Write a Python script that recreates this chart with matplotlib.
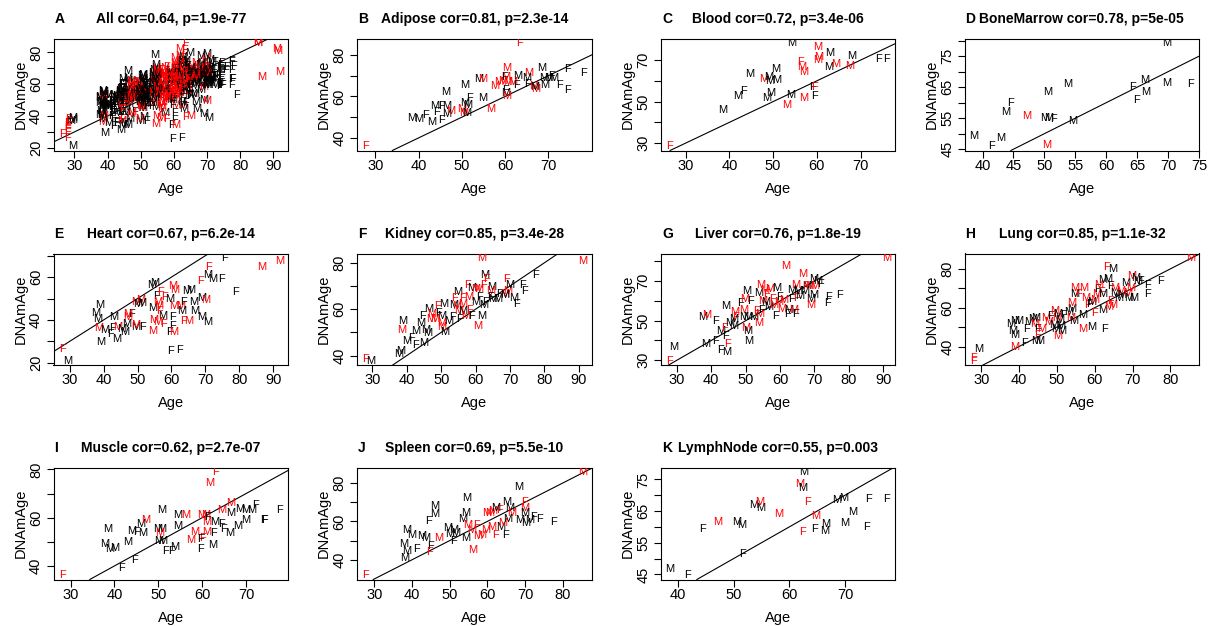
import matplotlib
matplotlib.use("Agg")
import matplotlib.pyplot as plt

plt.rcParams['font.family'] = ['Liberation Sans', 'DejaVu Sans']

# each point: (age, DNAmAge, sex, red) ; red=1 -> drawn in red
adipose = [(27.8,35.9,'F',1),(63.4,85.7,'F',1),(38.4,49.5,'M',0),(40.0,49.0,'M',0),(41.6,51.1,'F',0),
    (42.9,47.7,'M',0),(45.2,48.7,'F',0),(44.2,52.6,'F',0),(43.7,55.5,'M',0),(45.2,55.5,'F',0),
    (46.4,55.5,'M',0),(46.2,62.0,'M',0),(47.3,53.1,'M',1),(46.4,51.4,'M',0),(50.0,53.9,'M',1),
    (50.4,52.2,'M',1),(51.0,51.8,'M',0),(51.4,55.8,'M',0),(50.7,56.8,'M',0),(50.6,65.6,'M',0),
    (51.7,59.1,'F',0),(54.7,59.1,'M',0),(56.6,53.9,'M',1),(53.8,68.6,'M',0),(54.9,68.6,'M',1),
    (57.6,64.8,'M',1),(58.4,66.9,'M',1),(60.3,73.5,'M',1),(60.2,69.4,'M',1),(59.8,69.4,'F',0),
    (59.4,67.3,'M',1),(60.7,66.9,'M',1),(61.7,66.9,'M',1),(60.1,62.9,'F',0),(60.1,61.6,'M',0),
    (60.3,60.4,'M',1),(62.7,65.6,'F',0),(62.8,69.9,'M',0),(65.4,71.5,'M',1),(65.0,69.1,'M',0),
    (65.2,66.1,'F',0),(66.5,65.0,'M',1),(67.0,63.7,'M',1),(66.9,64.5,'M',0),(68.5,73.5,'M',0),
    (69.1,65.3,'M',0),(68.8,69.1,'M',0),(70.0,69.1,'M',0),(71.2,69.1,'M',0),(70.6,69.9,'F',0),
    (72.6,65.3,'F',0),(74.3,63.3,'F',0),(74.5,73.1,'F',0),(78.0,71.5,'F',0)]

blood = [(26.3,28.4,'F',1),(38.4,45.8,'M',0),(41.8,52.9,'M',0),(43.3,55.0,'F',0),(44.6,63.1,'M',0),
    (47.9,61.0,'M',1),(48.9,61.7,'M',0),(49.3,59.9,'M',0),(50.9,60.2,'M',0),(50.5,65.6,'M',0),
    (48.5,51.6,'M',0),(49.5,54.2,'M',0),(54.1,53.3,'M',0),(53.0,48.4,'M',1),(54.3,78.2,'M',0),
    (56.2,69.2,'F',1),(56.6,66.7,'M',1),(57.0,64.3,'M',1),(57.0,51.7,'M',1),(58.9,56.9,'F',0),
    (59.4,56.9,'F',1),(59.5,52.9,'F',0),(60.1,76.2,'M',1),(60.1,70.0,'M',1),(60.4,71.6,'M',1),
    (63.0,73.3,'M',0),(62.7,66.7,'M',0),(64.3,68.0,'M',1),(67.9,72.0,'M',0),(67.5,67.2,'M',1),
    (74.2,70.5,'F',0),(76.0,70.5,'F',0)]

bonemarrow = [(38.5,49.3,'M',0),(41.5,45.9,'F',0),(42.9,48.6,'M',0),(43.8,57.0,'M',0),(44.5,60.0,'F',0),
    (47.2,55.7,'M',1),(50.5,63.5,'M',0),(53.7,65.9,'M',0),(50.0,55.1,'M',0),(50.7,54.9,'M',0),
    (51.5,54.6,'F',0),(54.5,54.0,'M',0),(50.3,46.2,'M',1),(64.3,64.9,'F',0),(64.9,60.9,'F',0),
    (66.2,67.4,'M',0),(66.4,63.3,'M',0),(69.7,66.5,'M',0),(69.8,79.2,'M',0),(73.6,66.0,'F',0)]

heart = [(27.8,26.4,'F',1),(29.5,20.9,'M',0),(39.0,47.2,'M',0),(37.8,43.1,'M',0),(38.3,40.5,'M',0),
    (38.5,36.1,'M',1),(40.3,35.3,'M',0),(39.1,29.5,'M',0),(42.9,41.6,'M',0),(42.7,36.3,'F',0),
    (41.9,33.4,'F',0),(43.9,31.1,'M',0),(44.2,36.9,'M',1),(45.2,35.8,'M',0),(46.2,34.2,'M',0),
    (46.7,38.1,'M',0),(47.0,41.3,'M',1),(48.2,42.8,'F',0),(47.2,42.8,'M',1),(49.6,48.6,'M',1),
    (50.8,49.4,'M',1),(51.1,47.8,'M',0),(50.1,47.5,'M',0),(49.6,36.6,'M',0),(51.6,36.6,'F',0),
    (49.6,37.8,'M',1),(54.1,56.4,'M',0),(55.1,57.2,'M',0),(55.6,51.1,'F',0),(56.7,53.0,'F',1),
    (55.9,48.3,'M',1),(54.6,45.5,'M',0),(56.1,46.7,'M',1),(56.5,44.4,'F',1),(57.3,41.7,'M',0),
    (54.9,40.0,'M',1),(55.9,38.9,'M',1),(57.7,38.1,'F',1),(54.4,35.0,'M',1),(60.2,41.6,'F',0),
    (60.2,37.3,'F',0),(59.3,34.2,'F',0),(60.6,34.2,'M',1),(59.7,25.3,'F',0),(62.3,26.1,'F',0),
    (60.5,55.8,'M',1),(61.0,54.1,'M',1),(58.1,50.6,'F',1),(59.6,49.8,'M',0),(60.6,46.7,'M',1),
    (62.6,46.4,'M',1),(63.6,48.3,'F',0),(63.1,44.4,'M',0),(64.6,53.4,'M',0),(65.6,54.1,'M',0),
    (63.6,39.4,'F',1),(65.0,39.7,'M',1),(67.0,44.4,'M',0),(66.7,48.6,'M',0),(69.0,50.2,'M',0),
    (70.0,49.5,'M',1),(69.0,41.3,'M',0),(70.6,38.9,'M',0),(68.6,58.4,'F',1),(70.9,64.7,'F',1),
    (70.8,60.8,'M',0),(72.3,59.2,'M',0),(74.8,59.2,'F',0),(75.6,69.1,'F',0),(78.8,53.0,'F',0),
    (86.5,64.7,'M',1),(91.8,67.5,'M',1)]

kidney = [(28.1,38.4,'F',1),(29.5,37.7,'M',0),(37.6,40.6,'M',0),(38.3,41.8,'M',0),(38.8,54.9,'M',0),
    (38.6,51.0,'M',1),(40.0,46.1,'M',0),(41.3,47.6,'F',0),(42.5,44.7,'F',0),(44.8,45.4,'M',0),
    (42.7,50.5,'M',0),(43.9,54.2,'M',0),(44.5,57.1,'F',0),(46.4,60.0,'M',0),(45.4,51.2,'M',0),
    (46.1,49.8,'M',0),(46.8,55.6,'M',1),(47.1,58.1,'M',1),(49.3,58.5,'F',0),(50.6,62.2,'M',0),
    (50.0,57.1,'M',0),(50.1,54.2,'M',1),(50.2,52.3,'M',1),(50.9,50.1,'M',0),(48.2,55.6,'M',1),
    (48.9,61.5,'F',1),(52.1,54.9,'M',0),(53.3,56.4,'F',0),(53.5,61.9,'M',0),(54.8,67.3,'M',0),
    (53.9,64.7,'F',1),(54.5,61.5,'M',1),(55.1,59.3,'M',1),(55.4,55.9,'F',0),(56.2,64.7,'F',1),
    (56.2,62.2,'M',1),(56.2,59.3,'M',0),(57.2,57.1,'M',1),(58.8,57.1,'F',0),(57.7,70.5,'F',1),
    (58.8,69.2,'M',0),(60.1,68.8,'M',1),(58.0,65.1,'M',1),(58.3,59.6,'F',1),(60.1,62.9,'M',0),
    (60.6,52.7,'M',1),(61.8,57.1,'M',0),(61.0,68.8,'M',1),(61.8,82.2,'M',1),(62.5,74.6,'M',0),
    (63.2,73.1,'F',1),(62.4,70.5,'F',1),(61.1,65.4,'F',0),(62.4,61.9,'M',0),(63.0,62.9,'F',0),
    (64.8,69.5,'M',0),(64.5,67.7,'M',1),(64.3,65.4,'F',0),(65.0,64.4,'M',0),(66.4,64.4,'M',0),
    (66.9,66.6,'F',0),(68.3,66.6,'M',1),(69.3,67.7,'M',1),(69.1,73.1,'F',1),(70.0,70.2,'M',0),
    (68.5,66.3,'M',0),(71.1,64.7,'M',0),(71.9,62.2,'F',0),(73.7,70.5,'F',0),(74.3,67.7,'F',0),
    (77.4,74.6,'F',0),(91.2,80.9,'M',1)]

liver = [(27.9,29.7,'F',1),(29.0,36.8,'M',0),(37.6,51.7,'M',0),(38.8,52.9,'M',1),(38.4,38.1,'M',0),
    (41.3,39.8,'F',0),(41.3,49.7,'F',0),(42.7,35.3,'F',0),(44.6,34.4,'M',0),(44.6,38.1,'F',1),
    (44.1,42.4,'F',0),(42.7,44.9,'M',0),(44.0,46.3,'F',1),(44.3,57.3,'M',0),(45.4,49.0,'M',0),
    (46.4,47.5,'M',0),(46.8,54.2,'M',1),(47.1,51.7,'F',1),(46.6,50.8,'M',0),(48.5,58.8,'F',0),
    (49.3,55.4,'M',1),(49.8,61.0,'M',1),(51.4,60.2,'F',0),(50.3,64.9,'M',0),(49.5,51.7,'M',0),
    (50.7,52.0,'M',0),(50.1,46.3,'M',1),(50.7,44.9,'M',0),(51.0,39.5,'M',0),(53.7,48.8,'M',1),
    (52.4,52.0,'M',0),(53.2,55.1,'F',1),(54.2,53.4,'M',1),(53.7,63.9,'M',0),(54.4,68.1,'M',1),
    (55.6,65.6,'M',1),(55.1,60.2,'M',1),(54.7,55.6,'F',0),(56.1,63.6,'F',1),(55.8,59.7,'M',0),
    (57.1,66.1,'M',1),(56.6,56.8,'M',0),(57.8,61.0,'F',1),(58.2,58.0,'M',1),(59.0,66.4,'M',0),
    (59.5,59.7,'M',1),(59.7,61.9,'F',0),(58.8,52.5,'F',0),(60.5,55.9,'M',1),(61.0,60.5,'M',1),
    (61.6,77.6,'M',1),(62.1,53.4,'F',0),(62.6,55.4,'M',0),(63.9,55.4,'M',1),(64.6,53.4,'F',0),
    (63.4,65.6,'M',0),(64.6,68.1,'M',1),(65.1,64.9,'M',0),(63.2,61.0,'F',0),(64.9,61.5,'F',1),
    (65.8,62.7,'M',0),(66.5,73.4,'M',1),(67.3,64.9,'M',0),(67.8,67.8,'M',0),(67.3,67.8,'F',1),
    (68.8,61.0,'M',0),(69.0,58.1,'M',1),(68.6,67.8,'M',1),(69.7,71.2,'M',0),(69.9,63.2,'M',0),
    (70.2,67.8,'M',1),(70.9,70.3,'M',0),(71.9,68.6,'F',0),(74.1,61.9,'F',0),(73.9,58.8,'F',0),
    (77.3,63.2,'F',0),(91.0,81.9,'M',1)]

lung = [(27.9,34.0,'F',1),(27.9,32.6,'F',1),(29.4,38.8,'M',0),(38.8,40.0,'M',1),(41.5,41.7,'F',0),
    (37.7,51.5,'M',0),(38.4,48.1,'M',0),(38.8,46.0,'M',0),(38.8,53.2,'M',0),(39.9,53.2,'M',0),
    (42.0,49.1,'F',0),(42.6,52.6,'M',0),(43.7,54.2,'M',0),(44.3,54.6,'M',0),(44.2,51.5,'M',1),
    (44.8,49.1,'F',0),(44.4,42.6,'M',0),(45.5,42.6,'M',0),(45.0,46.0,'F',1),(46.1,49.1,'M',1),
    (47.0,54.6,'M',1),(48.3,55.5,'F',0),(47.9,52.6,'M',1),(49.2,51.2,'M',0),(49.4,58.4,'M',1),
    (49.9,54.6,'M',1),(50.2,56.8,'M',0),(50.8,53.7,'M',0),(49.6,49.1,'M',0),(50.2,45.2,'M',1),
    (50.9,50.6,'M',0),(51.4,48.1,'M',0),(51.7,56.0,'F',0),(53.2,57.7,'M',0),(53.8,59.2,'M',0),
    (53.6,54.6,'M',1),(54.5,52.9,'M',0),(54.0,62.3,'M',1),(54.6,70.4,'M',1),(57.1,70.4,'M',1),
    (54.6,67.0,'M',0),(55.8,67.0,'F',1),(56.9,56.3,'M',0),(56.7,49.1,'M',1),(59.1,49.8,'M',0),
    (62.6,49.1,'F',0),(57.5,64.8,'M',1),(58.0,61.5,'F',1),(58.7,61.8,'F',0),(59.3,62.8,'M',0),
    (59.9,64.0,'M',1),(59.9,57.5,'F',1),(62.0,58.9,'M',0),(60.4,67.0,'M',1),(60.8,69.7,'F',0),
    (61.0,71.8,'M',1),(61.7,68.0,'F',1),(62.0,67.0,'M',0),(62.2,74.3,'M',0),(63.5,74.8,'M',0),
    (63.1,81.2,'F',1),(64.8,79.8,'M',0),(64.2,71.4,'F',0),(65.2,70.0,'M',1),(63.7,60.6,'M',1),
    (64.8,61.5,'M',1),(64.2,63.2,'F',1),(65.2,67.5,'M',0),(66.4,64.9,'M',0),(66.8,68.7,'M',1),
    (67.2,66.3,'M',0),(68.1,72.6,'M',0),(68.6,67.5,'M',1),(69.0,64.9,'M',0),(69.7,76.4,'M',1),
    (69.4,70.4,'M',1),(70.3,64.9,'M',0),(70.8,75.2,'M',0),(71.4,73.8,'M',0),(72.1,73.8,'F',0),
    (74.0,71.8,'F',0),(74.0,67.0,'F',0),(77.4,73.8,'F',0),(85.3,85.8,'M',1)]

muscle = [(28.1,36.1,'F',1),(38.4,55.4,'M',0),(37.8,49.1,'M',0),(39.0,47.0,'M',0),(40.1,47.4,'M',0),
    (41.7,39.0,'F',0),(44.5,42.5,'F',0),(43.0,50.1,'M',0),(44.0,54.5,'M',0),(45.0,54.0,'F',0),
    (46.4,53.8,'M',0),(46.0,57.5,'M',0),(47.1,59.2,'M',1),(50.7,63.4,'M',0),(49.8,55.2,'M',0),
    (50.8,55.2,'M',0),(50.3,53.8,'M',1),(50.2,50.5,'M',0),(51.1,50.5,'M',0),(51.6,46.3,'F',0),
    (53.1,46.0,'F',0),(53.7,48.0,'M',0),(54.4,61.1,'M',0),(56.3,61.1,'M',1),(54.4,56.4,'M',0),
    (57.4,50.8,'M',1),(58.2,54.0,'M',1),(59.9,61.1,'M',1),(60.9,61.1,'M',1),(61.3,60.1,'F',0),
    (61.1,58.2,'M',1),(62.8,58.2,'M',0),(60.2,51.6,'F',1),(61.0,54.0,'M',1),(59.7,51.2,'F',0),
    (62.6,53.6,'F',0),(62.4,48.8,'M',0),(59.6,47.0,'F',0),(61.8,74.4,'M',1),(63.1,78.9,'F',1),
    (64.5,63.2,'M',1),(66.6,66.0,'M',1),(66.6,61.8,'M',0),(64.5,57.5,'F',0),(64.9,55.4,'F',0),
    (66.2,53.8,'M',0),(68.1,56.6,'M',0),(70.0,59.2,'M',0),(68.6,63.6,'M',0),(70.0,63.2,'M',0),
    (71.4,63.2,'M',0),(72.1,65.3,'F',0),(74.0,59.2,'F',0),(74.3,59.2,'F',0),(77.6,63.2,'F',0)]

spleen = [(27.8,31.9,'F',1),(38.2,40.9,'M',0),(38.5,44.8,'M',0),(37.7,48.3,'M',0),(38.5,55.3,'M',0),
    (39.9,53.0,'M',0),(41.2,45.6,'F',0),(42.7,52.2,'M',0),(43.7,51.3,'M',0),(45.0,47.4,'F',0),
    (44.6,44.2,'F',1),(44.3,60.3,'F',0),(46.1,63.8,'M',0),(46.1,68.2,'M',0),(47.0,51.5,'M',1),
    (49.5,56.6,'M',0),(50.1,53.2,'M',0),(51.0,55.3,'M',0),(51.5,53.9,'M',0),(51.1,50.0,'F',0),
    (53.5,61.0,'M',0),(54.3,64.5,'M',0),(54.5,72.1,'M',0),(54.3,51.5,'M',0),(54.8,58.0,'M',1),
    (55.7,55.3,'M',1),(57.2,58.3,'F',1),(56.2,45.1,'M',1),(57.5,52.2,'M',1),(58.4,53.0,'M',1),
    (59.6,55.3,'M',1),(59.9,64.5,'M',1),(60.7,64.1,'M',1),(61.4,65.6,'M',1),(63.2,65.9,'F',1),
    (62.1,66.8,'M',0),(61.0,57.1,'M',1),(62.1,52.7,'F',1),(63.6,57.1,'M',0),(63.9,59.2,'M',1),
    (65.0,70.3,'M',0),(65.4,61.0,'M',0),(64.8,52.7,'F',0),(66.0,67.1,'M',0),(66.5,64.5,'M',1),
    (68.2,77.9,'M',0),(69.8,70.3,'F',1),(69.8,66.8,'M',1),(69.8,64.5,'M',0),(68.5,60.6,'M',0),
    (70.1,59.2,'M',0),(71.2,60.6,'M',0),(72.2,62.4,'F',0),(73.8,61.0,'F',0),(77.5,59.7,'F',0),
    (85.3,85.6,'M',1)]

lymphnode = [(38.5,46.8,'M',0),(41.7,44.7,'F',0),(44.4,59.4,'F',0),(47.1,61.7,'M',1),(50.5,61.7,'M',0),
    (51.4,60.6,'M',0),(51.6,51.3,'F',0),(53.6,66.8,'M',0),(54.8,66.0,'M',0),(54.7,67.8,'M',1),
    (58.1,64.1,'M',1),(62.6,77.3,'M',0),(61.8,73.4,'M',1),(62.4,72.3,'M',0),(63.2,67.8,'F',1),
    (64.7,63.3,'M',1),(62.4,58.3,'F',1),(64.6,59.3,'F',0),(66.5,60.9,'M',0),(66.3,58.8,'M',0),
    (68.6,68.4,'M',0),(69.8,69.1,'M',0),(70.0,61.2,'M',0),(71.3,64.6,'M',0),(74.2,68.8,'F',0),
    (73.9,60.1,'F',0),(77.5,68.8,'F',0)]

tissues = [adipose, blood, bonemarrow, heart, kidney, liver, lung, muscle, spleen, lymphnode]
all_tissues = [p for t in tissues for p in t]

letters = list("ABCDEFGHIJK")
titles = ["All cor=0.64, p=1.9e-77", "Adipose cor=0.81, p=2.3e-14", "Blood cor=0.72, p=3.4e-06",
          "BoneMarrow cor=0.78, p=5e-05", "Heart cor=0.67, p=6.2e-14", "Kidney cor=0.85, p=3.4e-28",
          "Liver cor=0.76, p=1.8e-19", "Lung cor=0.85, p=1.1e-32", "Muscle cor=0.62, p=2.7e-07",
          "Spleen cor=0.69, p=5.5e-10", "LymphNode cor=0.55, p=0.003"]
datasets = [all_tissues] + tissues

xticks = [range(30, 91, 10), range(30, 71, 10), range(30, 71, 10), range(40, 76, 5),
          range(30, 91, 10), range(30, 91, 10), range(30, 91, 10), range(30, 81, 10),
          range(30, 71, 10), range(30, 81, 10), range(40, 71, 10)]
yticks = [range(20, 81, 10), range(40, 81, 10), range(30, 71, 10), range(45, 81, 5),
          range(20, 71, 10), range(40, 81, 10), range(30, 81, 10), range(40, 81, 10),
          range(40, 81, 10), range(40, 81, 10), range(45, 76, 5)]
# labels that R keeps (every other one)
ylab_start = [20, 40, 30, 45, 20, 40, 30, 40, 40, 40, 45]

W, H = 1215, 626
fig = plt.figure(figsize=(W / 100, H / 100), dpi=100)

col_left = [53.5, 357.2, 660.9, 964.6]
row_top = [39, 253.5, 468]
aw, ah = 234.5, 111.5
FS = 10

for i, pts in enumerate(datasets):
    r, c = divmod(i, 4)
    left, top = col_left[c], row_top[r]
    ax = fig.add_axes([left / W, 1 - (top + ah) / H, aw / W, ah / H])
    xs = [p[0] for p in pts]
    ys = [p[1] for p in pts]
    xr = max(xs) - min(xs)
    yr = max(ys) - min(ys)
    ax.set_xlim(min(xs) - 0.04 * xr, max(xs) + 0.04 * xr)
    ax.set_ylim(min(ys) - 0.04 * yr, max(ys) + 0.04 * yr)

    for x, y, s, red in pts:
        ax.text(x, y, s, color='#FF0000' if red else 'black', fontsize=8,
                ha='center', va='center', clip_on=True)
    ax.axline((0, 0), slope=1, color='black', lw=0.8)

    for sp in ax.spines.values():
        sp.set_linewidth(0.8)
    ax.set_xticks(list(xticks[i]))
    ax.set_xticklabels([str(v) for v in xticks[i]])
    yt = list(yticks[i])
    step = yt[1] - yt[0]
    ax.set_yticks(yt)
    ax.set_yticklabels([str(v) if (v - ylab_start[i]) % (2 * step) == 0 else '' for v in yt])
    ax.tick_params(axis='both', direction='out', length=5, width=0.8, labelsize=10.5)
    ax.tick_params(axis='x', pad=8.9)
    ax.tick_params(axis='y', pad=4.7)
    for lab in ax.get_xticklabels():
        lab.set_va('baseline')
    for lab in ax.get_yticklabels():
        lab.set_rotation(90)
        lab.set_rotation_mode('anchor')
        lab.set_ha('center')
        lab.set_va('baseline')

    cx = left + aw / 2
    fig.text(cx / W, 1 - (top - 15.7) / H, titles[i], fontsize=FS, fontweight='bold',
             ha='center', va='baseline')
    fig.text((left + 1) / W, 1 - (top - 15.7) / H, letters[i], fontsize=FS, fontweight='bold',
             ha='left', va='baseline')
    fig.text(cx / W, 1 - (top + ah + 42.5) / H, "Age", fontsize=10.5, ha='center', va='baseline')
    fig.text((left - 29) / W, 1 - (top + ah / 2) / H, "DNAmAge", fontsize=10.5, rotation=90,
             rotation_mode='anchor', ha='center', va='baseline')

fig.savefig("out.png", dpi=100)
